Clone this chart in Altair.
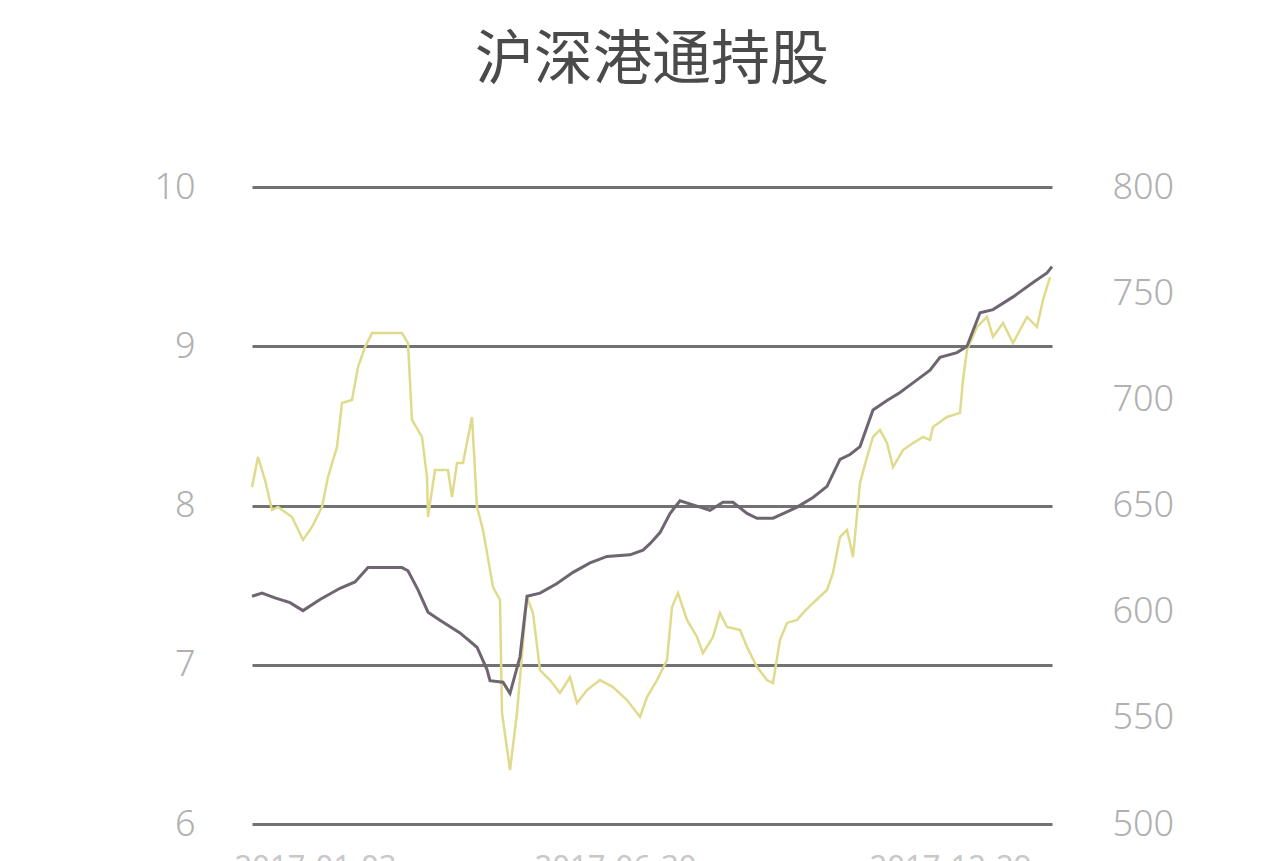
import altair as alt
import pandas as pd

# time position along the period (0..800 = plot span)
gray_t = [0, 10, 23, 38, 51, 68, 88, 103, 116, 133, 150, 156, 166, 176, 188, 208, 225, 235, 238, 251, 258, 268, 275,
          288, 305, 321, 338, 355, 378, 391, 398, 408, 418, 428, 448, 458, 471, 481, 495, 505, 521, 535, 545, 561, 575,
          588, 598, 608, 621, 635, 648, 661, 678, 688, 705, 715, 728, 741, 761, 781, 795, 800]
gray_v = [7.43, 7.45, 7.42, 7.39, 7.34, 7.41, 7.48, 7.52, 7.61, 7.61, 7.61, 7.59, 7.47, 7.33, 7.28, 7.20, 7.11, 6.97,
          6.90, 6.89, 6.82, 7.05, 7.43, 7.45, 7.51, 7.58, 7.64, 7.68, 7.69, 7.72, 7.76, 7.83, 7.95, 8.03, 7.99, 7.97,
          8.02, 8.02, 7.95, 7.92, 7.92, 7.96, 7.99, 8.05, 8.12, 8.29, 8.32, 8.37, 8.60, 8.66, 8.71, 8.77, 8.85, 8.93,
          8.96, 9.00, 9.21, 9.23, 9.31, 9.40, 9.46, 9.50]

yel_t = [0, 6, 13, 20, 26, 40, 51, 60, 70, 76, 85, 90, 100, 106, 113, 120, 150, 156, 160, 170, 175, 176, 183, 196,
         200, 205, 211, 220, 225, 231, 241, 248, 250, 258, 265, 275, 281, 288, 298, 308, 318, 325, 335, 348, 361, 375,
         388, 395, 405, 415, 420, 426, 435, 445, 451, 461, 468, 475, 488, 495, 505, 515, 521, 528, 535, 545, 551, 561,
         575, 581, 588, 595, 598, 601, 608, 615, 621, 628, 635, 641, 651, 661, 671, 678, 681, 695, 708, 711, 715, 725,
         735, 741, 751, 761, 775, 785, 791, 798]
yel_v = [658.7, 672.8, 662.0, 647.9, 649.3, 644.6, 633.8, 639.9, 649.3, 663.4, 677.6, 698.3, 699.7, 715.2, 724.6,
         731.2, 731.2, 726.5, 690.3, 682.3, 663.4, 644.6, 666.7, 666.7, 654.0, 670.0, 670.0, 691.7, 649.3, 638.5,
         611.6, 605.5, 552.3, 525.4, 552.3, 606.9, 599.4, 572.5, 567.8, 561.7, 569.2, 557.0, 563.1, 567.8, 564.5,
         558.4, 550.4, 559.8, 567.8, 577.2, 602.2, 608.8, 596.1, 588.1, 580.5, 588.1, 599.4, 592.8, 591.4, 583.4,
         573.9, 567.8, 566.4, 586.7, 594.7, 596.1, 599.4, 604.1, 610.2, 618.2, 635.2, 638.5, 632.3, 625.7, 660.6,
         672.8, 682.3, 685.6, 679.4, 668.1, 676.1, 679.4, 682.3, 680.8, 687.0, 691.7, 693.6, 709.1, 723.2, 734.1,
         738.8, 729.4, 736.0, 726.5, 738.8, 734.1, 746.8, 757.6]

x_tick_pos = [63, 363, 698]
x_tick_labels = ["2017-01-03", "2017-06-30", "2017-12-29"]

gray_df = pd.DataFrame({"t": gray_t, "v": gray_v})
yel_df = pd.DataFrame({"t": yel_t, "v": yel_v})

label_expr = " : ".join(
    [f"datum.value == {p} ? '{l}'" for p, l in zip(x_tick_pos, x_tick_labels)]
) + " : ''"

x_enc = alt.X(
    "t:Q",
    scale=alt.Scale(domain=[0, 800], nice=False, zero=False),
    axis=alt.Axis(values=x_tick_pos, labelExpr=label_expr, grid=False, domain=False, ticks=False,
                  labelPadding=28, labelFontSize=31, labelColor="#c8c8c8", title=None,
                  labelFont="Noto Sans"),
)

gray = alt.Chart(gray_df).mark_line(color="#6e6570", strokeWidth=3).encode(
    x=x_enc,
    y=alt.Y("v:Q", scale=alt.Scale(domain=[6, 10], nice=False, zero=False),
            axis=alt.Axis(values=[6, 7, 8, 9, 10], grid=True, gridColor="#727272", gridWidth=3,
                          domain=False, ticks=False, labelPadding=57, labelFontSize=36,
                          labelColor="#b0b0b0", title=None, labelFont="Noto Sans",
                          labelFontWeight=300)),
)

yellow = alt.Chart(yel_df).mark_line(color="#e0db8c", strokeWidth=2.5).encode(
    x=x_enc,
    y=alt.Y("v:Q", scale=alt.Scale(domain=[500, 800], nice=False, zero=False),
            axis=alt.Axis(orient="right", values=[500, 550, 600, 650, 700, 750, 800], grid=False,
                          domain=False, ticks=False, labelPadding=60, labelFontSize=36,
                          labelColor="#b0b0b0", title=None, labelFont="Noto Sans",
                          labelFontWeight=300)),
)

chart = alt.layer(yellow, gray).resolve_scale(y="independent").properties(
    width=800,
    height=637,
    background="white",
    autosize=alt.AutoSizeParams(type="none"),
    padding={"left": 244, "top": 179, "right": 212, "bottom": 40},
    title=alt.TitleParams("沪深港通持股", fontSize=59, color="#4a4a4a", font="Noto Sans CJK SC",
                          fontWeight="normal", anchor="middle", offset=78),
).configure_view(strokeWidth=0, stroke="transparent")

chart.save("out.html", embed_options={"renderer": "svg", "actions": False})
